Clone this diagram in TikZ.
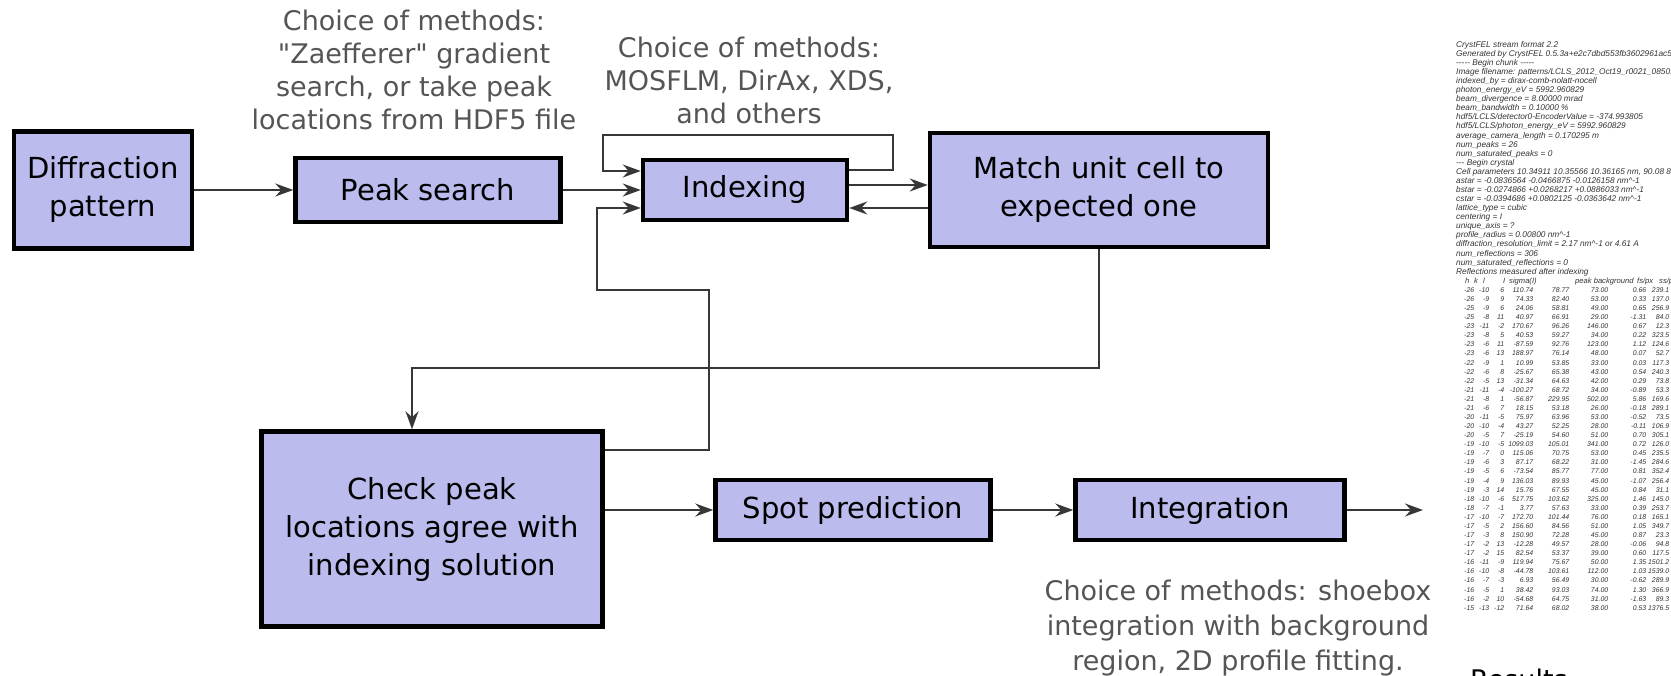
\documentclass[tikz,border=0pt]{standalone}
\usepackage{fontspec}
\setmainfont{DejaVu Sans}[Ligatures=TeXOff]
\newfontfamily\streamfont{Liberation Sans}
\usetikzlibrary{arrows.meta}
\definecolor{boxfill}{RGB}{187,187,238}
\definecolor{notegray}{RGB}{85,85,85}
\definecolor{linegray}{RGB}{55,55,55}
\newcommand\rw[8]{{\fontsize{6.9}{9.08}\selectfont\makebox[18pt][r]{#1}\makebox[15pt][r]{#2}\makebox[15pt][r]{#3}\makebox[29pt][r]{#4}\makebox[36pt][r]{#5}\makebox[39pt][r]{#6}\makebox[38pt][r]{#7}\makebox[23pt][r]{#8}}}
\newcommand\at[2]{\rlap{\hspace*{#1}#2}}
\begin{document}
\begin{tikzpicture}[x=1pt,y=-1pt,
 box/.style={draw=black, line width=4.5pt, fill=boxfill, align=center, inner sep=0pt, font=\fontsize{29}{38}\selectfont},
 note/.style={align=center, text=notegray, font=\fontsize{27}{33}\selectfont, inner sep=0pt},
 conn/.style={draw=linegray, line width=1.6pt},
 arr/.style={conn, -{Stealth[length=18pt,width=13pt,inset=6pt]}},
]
\useasboundingbox (0,0) rectangle (1671,676);
\clip (0,0) rectangle (1671,676);

% boxes
\node[box, minimum width=178pt, minimum height=117pt] (diff) at (103,190) {Diffraction\\pattern};
\node[box, minimum width=265pt, minimum height=64pt] (peak) at (428,190) {Peak search};
\node[box, minimum width=204pt, minimum height=60pt] (idx) at (745,190) {Indexing};
\node[box, minimum width=338pt, minimum height=114pt] (match) at (1099,190) {Match unit cell to\\expected one};
\node[box, minimum width=341pt, minimum height=195pt] (check) at (432,529) {Check peak\\locations agree with\\indexing solution};
\node[box, minimum width=275pt, minimum height=60pt] (spot) at (853,510) {Spot prediction};
\node[box, minimum width=269pt, minimum height=60pt] (integ) at (1210,510) {Integration};

% annotations
\node[note] (n1) at (414,70) {Choice of methods:\\"Zaefferer" gradient\\search, or take peak\\locations from HDF5 file};
\node[note] (n2) at (749,80) {Choice of methods:\\MOSFLM, DirAx, XDS,\\and others};
\node[note, font=\fontsize{27}{35}\selectfont] (n3) at (1238,628) {Choice of methods: shoebox\\integration with background\\region, 2D profile fitting.};

% coordinates for loops
\coordinate (tl) at (603,135);
\coordinate (tr) at (893,135);
\coordinate (bl) at (597,290);
\coordinate (br) at (709,290);
\coordinate (ml) at (412,368);
\coordinate (out) at (1423,510);

% connectors
\draw[arr] (diff.east) -- (peak.west);
\draw[arr] (peak.east) -- (idx.west);
\draw[arr] ([yshift=5pt]idx.east) -- ([yshift=5pt]idx.east -| match.west);
\draw[arr] ([yshift=-18pt]match.west) -- ([yshift=-18pt]match.west -| idx.east);
\draw[arr] ([yshift=20pt]idx.east) -| (tr) -- (tl) |- ([yshift=19pt]idx.west);
\draw[arr] ([yshift=79pt]check.east) -| (br) -- (bl) |- ([yshift=-18pt]idx.west);
\draw[arr] (match.south) |- (ml) -- (ml |- check.north);
\draw[arr] (check.east |- spot.west) -- (spot.west);
\draw[arr] (spot.east) -- (integ.west);
\draw[arr] (integ.east) -- (out);

% stream file
\node[anchor=north west, inner sep=0pt, align=left, text=black!80,
      font=\streamfont\itshape\fontsize{8.3}{9.08}\selectfont] (stream) at (1456,41) {%
CrystFEL stream format 2.2\\
Generated by CrystFEL 0.5.3a+e2c7dbd553fb3602961ac5f7\\
-{}-{}-{}-{}- Begin chunk -{}-{}-{}-{}-\\
Image filename: patterns/LCLS\_2012\_Oct19\_r0021\_085012\\
indexed\_by = dirax-comb-nolatt-nocell\\
photon\_energy\_eV = 5992.960829\\
beam\_divergence = 8.00000 mrad\\
beam\_bandwidth = 0.10000 \%\\
hdf5/LCLS/detector0-EncoderValue = -374.993805\\
hdf5/LCLS/photon\_energy\_eV = 5992.960829\\
average\_camera\_length = 0.170295 m\\
num\_peaks = 26\\
num\_saturated\_peaks = 0\\
-{}-{}- Begin crystal\\
Cell parameters 10.34911 10.35566 10.36165 nm, 90.08 89.97\\
astar = -0.0836564 -0.0466875 -0.0126158 nm\textasciicircum-1\\
bstar = -0.0274866 +0.0268217 +0.0886033 nm\textasciicircum-1\\
cstar = -0.0394686 +0.0802125 -0.0363642 nm\textasciicircum-1\\
lattice\_type = cubic\\
centering = I\\
unique\_axis = ?\\
profile\_radius = 0.00800 nm\textasciicircum-1\\
diffraction\_resolution\_limit = 2.17 nm\textasciicircum-1 or 4.61 A\\
num\_reflections = 306\\
num\_saturated\_reflections = 0\\
Reflections measured after indexing\\
{\fontsize{7.6}{9.08}\selectfont\at{9pt}{h}\at{18pt}{k}\at{27pt}{l}\at{47pt}{I}\at{53pt}{sigma(I)}\at{119pt}{peak background}\at{181pt}{fs/px}\at{203pt}{ss/px}\mbox{}}\\
\rw{-26}{-10}{6}{110.74}{78.77}{73.00}{0.66}{239.1}\\
\rw{-26}{-9}{9}{74.33}{82.40}{53.00}{0.33}{137.0}\\
\rw{-25}{-9}{6}{24.06}{58.81}{49.00}{0.65}{256.9}\\
\rw{-25}{-8}{11}{40.97}{66.91}{29.00}{-1.31}{84.0}\\
\rw{-23}{-11}{-2}{170.67}{96.26}{146.00}{0.67}{12.3}\\
\rw{-23}{-8}{5}{40.53}{59.27}{34.00}{0.22}{323.5}\\
\rw{-23}{-6}{11}{-87.59}{92.76}{123.00}{1.12}{124.6}\\
\rw{-23}{-6}{13}{188.97}{76.14}{48.00}{0.07}{52.7}\\
\rw{-22}{-9}{1}{10.99}{53.85}{33.00}{0.03}{117.3}\\
\rw{-22}{-6}{8}{-25.67}{65.38}{43.00}{0.54}{240.3}\\
\rw{-22}{-5}{13}{-31.34}{64.63}{42.00}{0.29}{73.8}\\
\rw{-21}{-11}{-4}{-100.27}{68.72}{34.00}{-0.89}{53.3}\\
\rw{-21}{-8}{1}{-56.87}{229.95}{502.00}{5.86}{169.6}\\
\rw{-21}{-6}{7}{18.15}{53.18}{26.00}{-0.18}{289.1}\\
\rw{-20}{-11}{-5}{75.97}{63.96}{53.00}{-0.52}{73.5}\\
\rw{-20}{-10}{-4}{43.27}{52.25}{28.00}{-0.11}{106.9}\\
\rw{-20}{-5}{7}{-25.19}{54.60}{51.00}{0.70}{305.1}\\
\rw{-19}{-10}{-5}{1099.03}{105.01}{341.00}{0.72}{126.0}\\
\rw{-19}{-7}{0}{115.06}{70.75}{53.00}{0.45}{235.5}\\
\rw{-19}{-6}{3}{87.17}{68.22}{31.00}{-1.45}{284.6}\\
\rw{-19}{-5}{6}{-73.54}{85.77}{77.00}{0.81}{352.4}\\
\rw{-19}{-4}{9}{136.03}{89.93}{45.00}{-1.07}{256.4}\\
\rw{-19}{-3}{14}{15.76}{67.55}{45.00}{0.84}{31.1}\\
\rw{-18}{-10}{-6}{517.75}{103.62}{325.00}{1.46}{145.0}\\
\rw{-18}{-7}{-1}{3.77}{57.63}{33.00}{0.39}{253.7}\\
\rw{-17}{-10}{-7}{172.70}{101.44}{76.00}{0.18}{165.1}\\
\rw{-17}{-5}{2}{156.60}{84.56}{51.00}{1.05}{349.7}\\
\rw{-17}{-3}{8}{150.90}{72.28}{45.00}{0.87}{23.3}\\
\rw{-17}{-2}{13}{-12.28}{49.57}{28.00}{-0.06}{94.8}\\
\rw{-17}{-2}{15}{82.54}{53.37}{39.00}{0.60}{117.5}\\
\rw{-16}{-11}{-9}{119.94}{75.67}{50.00}{1.35}{1501.2}\\
\rw{-16}{-10}{-8}{-44.78}{103.61}{112.00}{1.03}{1539.0}\\
\rw{-16}{-7}{-3}{6.93}{56.49}{30.00}{-0.62}{289.9}\\
\rw{-16}{-5}{1}{38.42}{93.03}{74.00}{1.30}{366.9}\\
\rw{-16}{-2}{10}{-54.68}{64.75}{31.00}{-1.63}{89.3}\\
\rw{-15}{-13}{-12}{71.64}{68.02}{38.00}{0.53}{1376.5}};

\node[anchor=north west, inner sep=0pt, font=\fontsize{27}{33}\selectfont] (res) at (1470,669) {Results};
\end{tikzpicture}
\end{document}
